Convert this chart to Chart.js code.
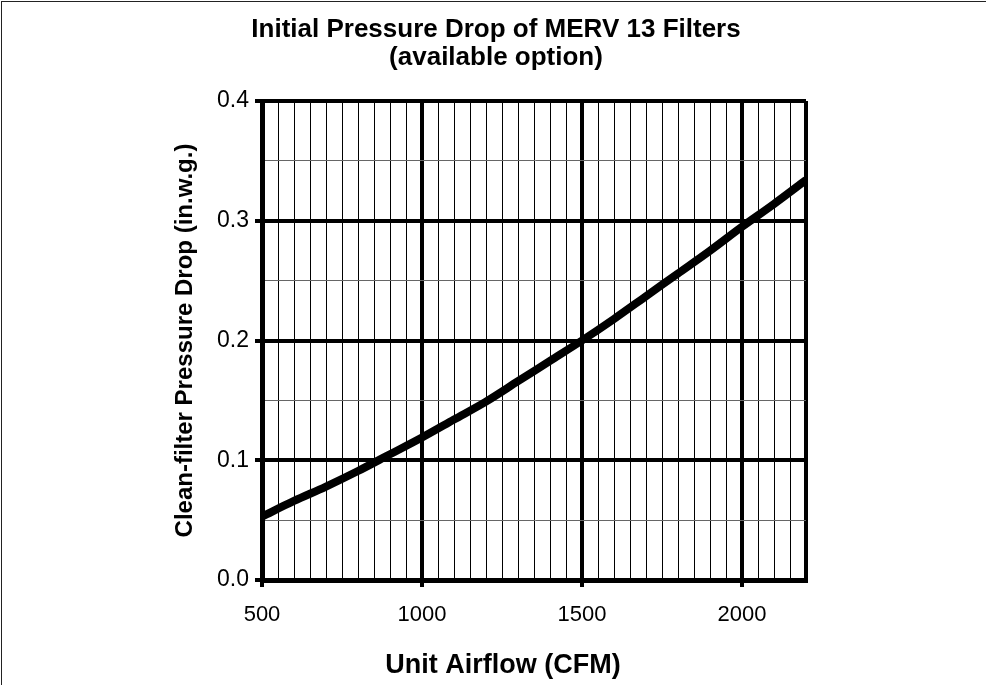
<!DOCTYPE html>
<html>
<head>
<meta charset="utf-8">
<script src="https://cdn.jsdelivr.net/npm/chart.js@4.4.0/dist/chart.umd.min.js"></script>
<style>
  body { margin: 0; background: #fff; }
  #wrap { position: relative; width: 989px; height: 685px; }
  #frame { position: absolute; left: 1px; top: 1px; width: 984px; height: 700px;
           border-left: 1px solid #222; border-top: 1px solid #222; }
  canvas { position: absolute; left: 0; top: 0; }
</style>
</head>
<body>
<div id="wrap">
  <div id="frame"></div>
  <canvas id="filter-chart" width="989" height="685"></canvas>
</div>
<script>
// Initial pressure drop curve, every 100 CFM

const airflow = [500, 600, 700, 800, 900, 1000, 1100, 1200, 1300, 1400,
  1500, 1600, 1700, 1800, 1900, 2000, 2100, 2200];
const pressureDrop = [0.053, 0.066, 0.078, 0.091, 0.105, 0.119, 0.134, 0.149, 0.166, 0.183,
  0.200, 0.218, 0.237, 0.256, 0.275, 0.295, 0.314, 0.334];
const xMajorLabels = ["500", "1000", "1500", "2000"];
const yMajorLabels = ["0.0", "0.1", "0.2", "0.3", "0.4"];
const titleLines = ["Initial Pressure Drop of MERV 13 Filters", "(available option)"];
const xTitle = "Unit Airflow (CFM)";
const yTitle = "Clean-filter Pressure Drop (in.w.g.)";

const FONT = "'Liberation Sans', Arial, Helvetica, sans-serif";

const points = airflow.map((q, i) => ({ x: q, y: pressureDrop[i] }));

const isXMajor = (v) => v % 500 === 0 && v < 2200;
const isYMajor = (v) => Math.round(v * 100) % 10 === 0;

// title and x title are centred on the picture, not on the plot
const pageTexts = {
  id: "pageTexts",
  afterDraw(chart) {
    const c = chart.ctx;
    c.save();
    c.fillStyle = "#000";
    c.textAlign = "center";
    c.textBaseline = "middle";
    c.font = "bold 26px " + FONT;
    c.fillText(titleLines[0], 496, 30);
    c.fillText(titleLines[1], 496, 58);
    c.font = "bold 27px " + FONT;
    c.fillText(xTitle, 503, 666);
    c.restore();
  },
};

const ctx = document.getElementById("filter-chart");

new Chart(ctx, {
  type: "line",
  data: {
    datasets: [{
      label: "Clean-filter Pressure Drop",
      data: points,
      borderColor: "#000",
      backgroundColor: "#000",
      borderWidth: 8,
      pointRadius: 0,
      cubicInterpolationMode: "monotone",
      fill: false,
    }, ],
  },
  options: {
    responsive: false,
    animation: false,
    layout: {
      padding: { left: 0, right: 183, top: 101, bottom: 0 },
    },
    plugins: {
      legend: { display: false },
      tooltip: { enabled: false },
      title: { display: false },
    },
    scales: {
      x: {
        type: "linear",
        min: 500,
        max: 2200,
        afterFit: (scale) => { scale.height = 105; },
        border: { display: true, width: 5, color: "#000" },
        grid: {
          color: "#000",
          lineWidth: (c) => (c.tick && (c.tick.value % 500 === 0 || c.tick.value === 2200) ? 4 : 1),
          drawTicks: true,
          tickLength: 7,
          tickWidth: 4,
          tickColor: (c) => (c.tick && isXMajor(c.tick.value) ? "#000" : "rgba(0,0,0,0)"),
        },
        ticks: {
          stepSize: 50,
          autoSkip: false,
          maxTicksLimit: 100,
          maxRotation: 0,
          padding: 15,
          color: "#000",
          font: { family: FONT, size: 22 },
          callback: (v) => (isXMajor(v) ? xMajorLabels[(v - 500) / 500] : ""),
        },
        title: { display: false },
      },
      y: {
        min: 0,
        max: 0.4,
        afterFit: (scale) => { scale.width = 262; },
        border: { display: true, width: 5, color: "#000" },
        grid: {
          color: (c) => (c.tick && isYMajor(c.tick.value) ? "#000" : "#666"),
          lineWidth: (c) => (c.tick && isYMajor(c.tick.value) ? 4 : 1),
          drawTicks: true,
          tickLength: 7,
          tickWidth: 4,
          tickColor: (c) => (c.tick && isYMajor(c.tick.value) ? "#000" : "rgba(0,0,0,0)"),
        },
        ticks: {
          stepSize: 0.05,
          autoSkip: false,
          maxTicksLimit: 100,
          padding: 6,
          color: "#000",
          font: { family: FONT, size: 23 },
          callback: (v) => (isYMajor(v) ? yMajorLabels[Math.round(v * 10)] : ""),
        },
        title: {
          display: true,
          text: yTitle,
          color: "#000",
          font: { family: FONT, size: 24, weight: "bold" },
          padding: { top: 171, bottom: 0 },
        },
      },
    },
  },
  plugins: [pageTexts],
});
</script>
</body>
</html>
